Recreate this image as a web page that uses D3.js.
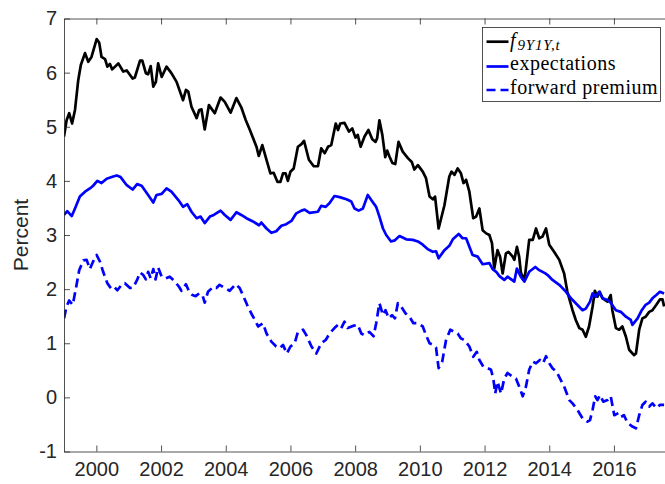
<!DOCTYPE html>
<html>
<head>
<meta charset="utf-8">
<script src="https://cdn.jsdelivr.net/npm/d3@7/dist/d3.min.js"></script>
<style>
  body { margin: 0; background: #fff; }
  svg { display: block; }
  .axis path, .axis line { stroke: #262626; stroke-width: 0.8; }
  .axis text { font-family: "Liberation Sans", Arial, sans-serif; font-size: 20px; fill: #262626; }
</style>
</head>
<body>
<div id="container"></div>
<script>
// ---------------------------------------------------------------- //
// Data (decimal years)

var f_t = [1999.00,1999.08,1999.16,1999.25,1999.34,1999.44,1999.52,1999.65,1999.75,1999.85,2000.01,2000.09,2000.16,2000.27,2000.34,2000.42,2000.49,2000.68,2000.83,2000.94,
  2001.12,2001.19,2001.35,2001.42,2001.53,2001.60,2001.68,2001.76,2001.84,2001.91,2002.02,2002.17,2002.32,2002.48,2002.68,2002.77,2002.84,2002.94,2003.10,2003.18,
  2003.25,2003.35,2003.48,2003.66,2003.84,2003.97,2004.15,2004.33,2004.48,2004.62,2004.74,2004.95,2005.02,2005.13,2005.26,2005.38,2005.48,2005.60,2005.69,2005.77,
  2005.85,2005.92,2006.00,2006.10,2006.23,2006.34,2006.42,2006.57,2006.72,2006.85,2006.95,2007.06,2007.16,2007.26,2007.40,2007.47,2007.54,2007.67,2007.81,2007.91,
  2008.01,2008.08,2008.17,2008.29,2008.41,2008.53,2008.63,2008.68,2008.75,2008.84,2008.93,2008.99,2009.06,2009.15,2009.24,2009.34,2009.47,2009.63,2009.75,2009.83,
  2009.94,2010.09,2010.19,2010.30,2010.40,2010.47,2010.58,2010.76,2010.91,2010.98,2011.07,2011.17,2011.27,2011.35,2011.43,2011.53,2011.65,2011.74,2011.84,2011.94,
  2012.05,2012.15,2012.23,2012.30,2012.40,2012.48,2012.56,2012.66,2012.74,2012.87,2012.92,2013.00,2013.07,2013.12,2013.20,2013.26,2013.38,2013.49,2013.59,2013.69,
  2013.79,2013.90,2014.00,2014.15,2014.31,2014.46,2014.56,2014.72,2014.82,2014.93,2015.03,2015.13,2015.23,2015.34,2015.41,2015.49,2015.56,2015.65,2015.80,2015.90,
  2015.95,2016.06,2016.16,2016.26,2016.37,2016.47,2016.62,2016.68,2016.78,2016.88,2016.98,2017.09,2017.19,2017.31,2017.42,2017.50,2017.55];
var f_v = [4.82,5.12,5.25,5.06,5.31,5.86,6.14,6.36,6.20,6.29,6.62,6.55,6.29,6.25,6.11,6.16,6.06,6.17,6.02,6.04,
  5.89,5.91,6.22,6.22,5.99,5.97,6.12,5.74,5.83,6.17,5.92,6.11,5.99,5.83,5.49,5.68,5.65,5.37,5.16,5.31,
  5.32,4.95,5.40,5.25,5.54,5.46,5.26,5.53,5.36,5.12,4.95,4.63,4.46,4.66,4.39,4.14,4.15,3.98,3.98,4.14,
  4.14,4.00,4.17,4.23,4.63,4.68,4.74,4.39,4.27,4.27,4.60,4.51,4.63,4.66,5.06,4.94,5.06,5.07,4.91,4.97,
  4.80,4.85,4.63,4.82,4.94,4.77,4.72,4.79,5.12,4.85,4.44,4.56,4.45,4.33,4.31,4.72,4.54,4.42,4.35,4.21,
  4.29,4.17,4.05,3.71,3.66,3.71,3.12,3.55,4.08,4.17,4.11,4.23,4.14,3.96,4.02,3.80,3.31,3.34,3.49,3.09,
  3.03,3.00,2.85,2.38,2.72,2.60,2.29,2.66,2.69,2.60,2.54,2.78,2.60,2.32,2.17,2.29,2.91,2.91,3.12,2.94,
  2.97,3.12,2.82,2.69,2.54,2.29,1.95,1.61,1.43,1.28,1.25,1.12,1.31,1.68,1.97,1.86,1.95,1.83,1.77,1.89,
  1.61,1.28,1.25,1.31,1.12,0.88,0.78,0.81,1.25,1.46,1.49,1.58,1.61,1.71,1.81,1.81,1.68];

var e_t = [1999.00,1999.10,1999.24,1999.34,1999.49,1999.65,1999.80,1999.90,2000.03,2000.16,2000.32,2000.52,2000.63,2000.75,2000.94,2001.12,2001.26,2001.40,2001.60,2001.76,
  2001.86,2002.02,2002.17,2002.32,2002.53,2002.68,2002.81,2002.94,2003.10,2003.22,2003.35,2003.51,2003.63,2003.84,2003.97,2004.15,2004.33,2004.48,2004.64,2004.84,
  2005.03,2005.10,2005.26,2005.41,2005.56,2005.72,2005.87,2006.03,2006.18,2006.34,2006.44,2006.59,2006.85,2006.95,2007.09,2007.21,2007.36,2007.52,2007.73,2007.88,
  2007.98,2008.11,2008.24,2008.39,2008.53,2008.65,2008.75,2008.86,2008.96,2009.11,2009.22,2009.37,2009.58,2009.78,2009.94,2010.09,2010.24,2010.40,2010.50,2010.58,
  2010.76,2010.91,2011.02,2011.20,2011.32,2011.43,2011.63,2011.79,2011.94,2012.15,2012.25,2012.36,2012.46,2012.61,2012.71,2012.92,2013.00,2013.12,2013.23,2013.38,
  2013.57,2013.69,2013.88,2013.95,2014.10,2014.31,2014.52,2014.67,2014.82,2015.03,2015.13,2015.26,2015.34,2015.44,2015.54,2015.65,2015.80,2015.90,2016.06,2016.21,
  2016.37,2016.52,2016.57,2016.73,2016.86,2016.98,2017.09,2017.19,2017.31,2017.42,2017.55];
var e_v = [3.37,3.44,3.35,3.49,3.71,3.80,3.86,3.91,4.00,3.96,4.04,4.08,4.10,4.07,3.92,3.84,3.94,3.91,3.74,3.60,
  3.74,3.76,3.86,3.80,3.65,3.52,3.57,3.43,3.31,3.34,3.22,3.34,3.37,3.45,3.37,3.28,3.42,3.37,3.31,3.25,
  3.18,3.23,3.12,3.04,3.07,3.17,3.20,3.26,3.40,3.45,3.47,3.41,3.43,3.54,3.52,3.59,3.72,3.70,3.66,3.62,
  3.49,3.45,3.49,3.74,3.62,3.52,3.34,3.12,3.00,2.88,2.90,2.98,2.92,2.91,2.88,2.82,2.74,2.69,2.70,2.57,
  2.72,2.80,2.92,3.02,2.94,2.94,2.63,2.60,2.46,2.48,2.37,2.32,2.24,2.17,2.23,2.14,2.38,2.23,2.14,2.32,
  2.41,2.35,2.29,2.26,2.17,2.08,1.95,1.83,1.74,1.61,1.64,1.77,1.92,1.86,1.95,1.83,1.80,1.75,1.61,1.58,
  1.49,1.43,1.34,1.46,1.61,1.71,1.75,1.83,1.89,1.95,1.92];

var p_t = [1999.00,1999.08,1999.16,1999.27,1999.37,1999.47,1999.60,1999.70,1999.80,1999.90,2000.01,2000.11,2000.21,2000.34,2000.47,2000.57,2000.65,2000.78,2000.88,2001.04,
  2001.14,2001.26,2001.35,2001.45,2001.53,2001.60,2001.68,2001.76,2001.83,2001.91,2002.02,2002.15,2002.27,2002.43,2002.56,2002.63,2002.77,2002.87,2002.97,2003.07,
  2003.18,2003.28,2003.35,2003.45,2003.61,2003.71,2003.81,2003.97,2004.12,2004.31,2004.43,2004.53,2004.66,2004.79,2004.90,2005.00,2005.15,2005.26,2005.41,2005.56,
  2005.67,2005.77,2005.89,2006.00,2006.13,2006.23,2006.39,2006.49,2006.65,2006.80,2006.95,2007.09,2007.21,2007.36,2007.47,2007.57,2007.67,2007.77,2007.93,2008.08,
  2008.19,2008.29,2008.44,2008.57,2008.65,2008.75,2008.86,2008.94,2009.04,2009.14,2009.23,2009.32,2009.42,2009.56,2009.68,2009.80,2009.94,2010.09,2010.19,2010.30,
  2010.42,2010.50,2010.58,2010.69,2010.81,2010.94,2011.07,2011.17,2011.27,2011.38,2011.53,2011.65,2011.76,2011.84,2011.96,2012.10,2012.20,2012.27,2012.33,2012.40,
  2012.51,2012.61,2012.71,2012.87,2012.97,2013.07,2013.18,2013.28,2013.38,2013.49,2013.59,2013.71,2013.81,2013.90,2014.00,2014.10,2014.23,2014.33,2014.46,2014.62,
  2014.72,2014.87,2015.03,2015.18,2015.26,2015.34,2015.42,2015.49,2015.57,2015.67,2015.80,2015.90,2016.01,2016.14,2016.21,2016.31,2016.42,2016.57,2016.68,2016.78,
  2016.88,2016.98,2017.09,2017.19,2017.31,2017.42,2017.55];
var p_v = [1.46,1.68,1.79,1.71,2.02,2.35,2.53,2.54,2.37,2.51,2.63,2.51,2.32,2.11,2.00,2.03,1.98,2.08,2.11,2.02,
  2.03,2.17,2.31,2.26,2.18,2.32,2.20,2.37,2.18,2.40,2.23,2.20,2.23,2.14,2.04,1.97,2.09,1.95,1.89,1.87,
  1.92,1.89,1.75,1.95,2.04,2.02,2.08,2.02,1.97,2.09,2.02,1.89,1.71,1.55,1.43,1.31,1.37,1.18,1.03,0.94,
  0.91,0.97,0.81,0.94,1.00,1.21,1.25,1.15,0.94,0.81,1.00,1.06,1.18,1.28,1.34,1.28,1.40,1.28,1.32,1.34,
  1.18,1.15,1.21,1.13,1.37,1.74,1.52,1.61,1.46,1.52,1.46,1.74,1.68,1.55,1.49,1.37,1.37,1.31,1.15,1.00,
  0.97,0.92,0.54,0.66,1.06,1.25,1.21,1.18,1.09,1.06,0.94,0.75,0.84,0.69,0.57,0.54,0.51,0.35,0.07,0.29,
  0.07,0.35,0.45,0.38,0.35,0.20,0.02,0.20,0.51,0.66,0.63,0.69,0.63,0.76,0.63,0.54,0.47,0.35,0.20,-0.05,
  -0.11,-0.23,-0.39,-0.45,-0.42,-0.23,0.02,-0.05,0.04,-0.08,-0.05,0.02,-0.33,-0.29,-0.36,-0.33,-0.47,-0.54,-0.57,-0.33,
  -0.14,-0.08,-0.17,-0.11,-0.20,-0.14,-0.14];

var xTicks = [2000, 2002, 2004, 2006, 2008, 2010, 2012, 2014, 2016];
var yTicks = [-1, 0, 1, 2, 3, 4, 5, 6, 7];
var legendLabels = ['f', 'expectations', 'forward premium'];

// ---------------------------------------------------------------- //
// Create

var canvas_width = 665, canvas_height = 484;
var plot = { left: 64, top: 18.5, bottom: 451.5 };
plot.right = plot.left + 19*32.35; // axis runs to 2018, past the window edge

var svg = d3.select('#container').append('svg').attr('width', canvas_width).attr('height', canvas_height);

var xScale = d3.scaleLinear().domain([1999, 2018]).range([plot.left, plot.right]);
var yScale = d3.scaleLinear().domain([-1, 7]).range([plot.bottom, plot.top]);

svg.append('clipPath').attr('id', 'clip').append('rect')
  .attr('x', plot.left).attr('y', plot.top).attr('width', plot.right - plot.left).attr('height', plot.bottom - plot.top);

var lineGen = d3.line().x(d => xScale(d[0])).y(d => yScale(d[1]));
var series = [
  { t: f_t, v: f_v, color: '#000000', dash: null },
  { t: e_t, v: e_v, color: '#0000ff', dash: null },
  { t: p_t, v: p_v, color: '#0000ff', dash: '9,5' }
];

var linesG = svg.append('g').attr('clip-path', 'url(#clip)');
series.forEach(function(s){
  linesG.append('path')
    .attr('d', lineGen(s.t.map((t, i) => [t, s.v[i]])))
    .attr('fill', 'none').attr('stroke', s.color).attr('stroke-width', 2.7)
    .attr('stroke-linejoin', 'round')
    .attr('stroke-dasharray', s.dash);
});

// axes (ticks point inward, MATLAB box style)
svg.append('g').attr('class', 'axis').attr('transform', 'translate(0,' + plot.bottom + ')')
  .call(d3.axisBottom(xScale).tickValues(xTicks).tickFormat(d3.format('d')).tickSizeInner(-6).tickSizeOuter(0).tickPadding(10));
svg.append('g').attr('class', 'axis').attr('transform', 'translate(0,' + plot.top + ')')
  .call(d3.axisTop(xScale).tickValues(xTicks).tickFormat('').tickSizeInner(-6).tickSizeOuter(0));
svg.append('g').attr('class', 'axis').attr('transform', 'translate(' + plot.left + ',0)')
  .call(d3.axisLeft(yScale).tickValues(yTicks).tickFormat(d => String(d)).tickSizeInner(-6).tickSizeOuter(0).tickPadding(7));
svg.append('g').attr('class', 'axis').attr('transform', 'translate(' + plot.right + ',0)')
  .call(d3.axisRight(yScale).tickValues(yTicks).tickFormat('').tickSizeInner(-6).tickSizeOuter(0));

svg.append('text')
  .attr('transform', 'translate(28,' + (plot.top + plot.bottom)/2 + ') rotate(-90)')
  .attr('text-anchor', 'middle')
  .style('font-family', '"Liberation Sans", Arial, sans-serif').style('font-size', '21px').style('fill', '#262626')
  .text('Percent');

// ---------------------------------------------------------------- //
// Legend

var legend = svg.append('g');
legend.append('rect').attr('x', 482.5).attr('y', 27.5).attr('width', 178).attr('height', 74)
  .attr('fill', '#fff').attr('stroke', '#262626').attr('stroke-width', 0.8);

var rowY = [41.7, 66.5, 90];
var textY = [46.5, 70, 94];
series.forEach(function(s, i){
  legend.append('line').attr('x1', 486.5).attr('x2', 508.5).attr('y1', rowY[i]).attr('y2', rowY[i])
    .attr('stroke', s.color).attr('stroke-width', 2.7).attr('stroke-dasharray', s.dash);
  var txt = legend.append('text').attr('x', 510).attr('y', textY[i])
    .style('font-family', '"Liberation Serif", "Times New Roman", serif').style('font-size', '20px').style('fill', '#000');
  if (i === 0) {
    txt.append('tspan').style('font-style', 'italic').text(legendLabels[0]);
    txt.append('tspan').attr('dx', 2).attr('dy', 3).style('font-style', 'italic').style('font-size', '15px')
      .style('letter-spacing', '0.8px').text('9Y1Y,t');
  } else {
    txt.style('letter-spacing', '0.5px').text(legendLabels[i]);
  }
});
</script>
</body>
</html>
